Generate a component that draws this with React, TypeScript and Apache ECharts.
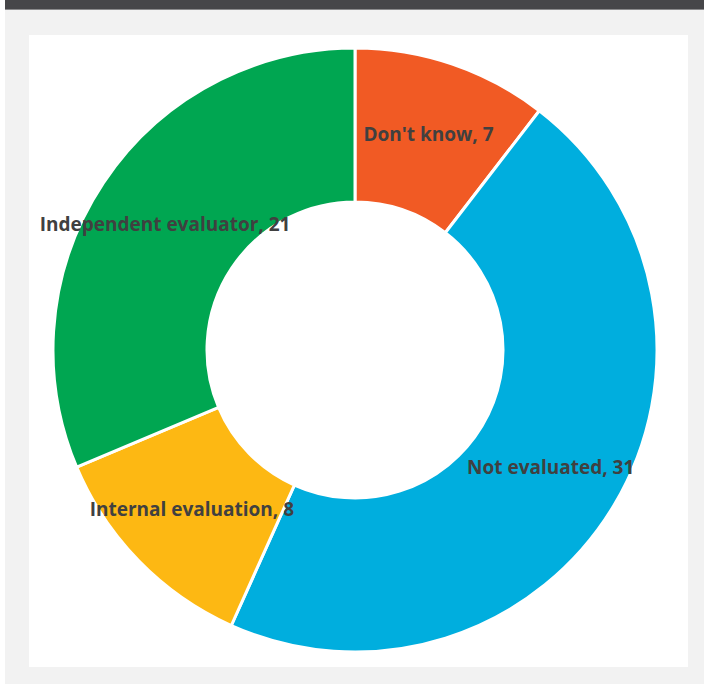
import React, { useEffect, useRef } from "react";
import * as echarts from "echarts";

const categories = ["Don't know", "Not evaluated", "Internal evaluation", "Independent evaluator"];
const counts = [7, 31, 8, 21];
const colors = ["#F15A24", "#00AEDE", "#FDB813", "#00A651"];

export default function App() {
  const ref = useRef<HTMLDivElement>(null);

  useEffect(() => {
    if (!ref.current) return;
    document.body.style.margin = "0";
    const chart = echarts.init(ref.current, undefined, { renderer: "svg" });
    chart.setOption({
      animation: false,
      backgroundColor: "#F2F2F2",
      graphic: [
        { type: "rect", shape: { x: 0, y: 0, width: 5, height: 684 }, style: { fill: "#FFFFFF" }, z: -10 },
        { type: "rect", shape: { x: 5, y: 0, width: 699, height: 9 }, style: { fill: "#464649" }, z: -10 },
        { type: "rect", shape: { x: 5, y: 9, width: 699, height: 1 }, style: { fill: "#8A8A8C" }, z: -10 },
        { type: "rect", shape: { x: 29, y: 35, width: 659, height: 632 }, style: { fill: "#FFFFFF" }, z: -10 },
      ],
      series: [
        {
          type: "pie",
          center: [355, 350],
          radius: [148, 302],
          startAngle: 90,
          clockwise: true,
          avoidLabelOverlap: false,
          itemStyle: { borderColor: "#FFFFFF", borderWidth: 3 },
          label: {
            show: true,
            position: "inside",
            formatter: "{b}, {c}",
            color: "#404040",
            fontFamily: "Open Sans",
            fontWeight: "bold",
            fontSize: 19,
          },
          labelLine: { show: false },
          emphasis: { disabled: true },
          data: categories.map((name, i) => ({
            name,
            value: counts[i],
            itemStyle: { color: colors[i] },
          })),
        },
      ],
    });
    return () => chart.dispose();
  }, []);

  return (
    <div style={{ position: "fixed", left: 0, top: 0 }}>
      <div ref={ref} style={{ width: 704, height: 684 }} />
    </div>
  );
}
